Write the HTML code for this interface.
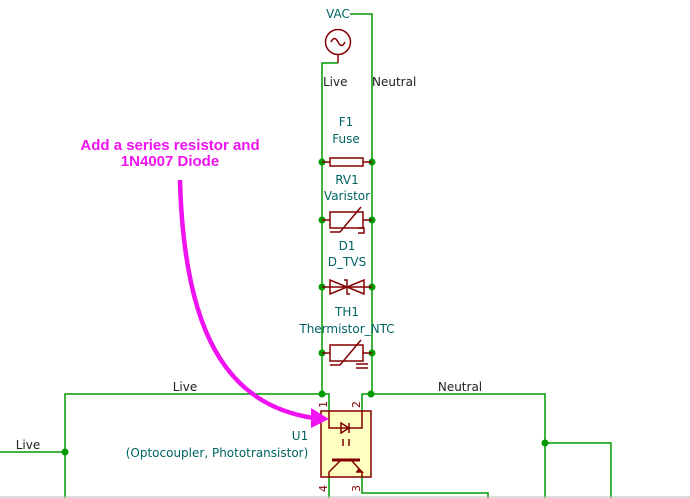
<!DOCTYPE html>
<html><head><style>
html,body{margin:0;padding:0;background:#fff;}
svg{display:block;}
.t{font-family:"DejaVu Sans","Liberation Sans",sans-serif;font-size:12px;fill:#006464;}
.w{font-family:"DejaVu Sans","Liberation Sans",sans-serif;font-size:12px;fill:#222;}
</style></head><body>
<svg width="690" height="498" viewBox="0 0 690 498" xmlns="http://www.w3.org/2000/svg">
<g stroke="#009900" stroke-width="1.5" fill="none">
<path d="M350,14 H372 V394"/>
<path d="M338,63 H322 V394"/>
<path d="M65,498 V394 H329 V411"/>
<path d="M362,411 V394 H545 V498"/>
<path d="M0,452 H65"/>
<path d="M545,443 H611 V498"/>
<path d="M362,477 V493 H488 V498"/>
<path d="M329,477 V498"/>
</g>
<g fill="#009900">
<circle cx="322" cy="162" r="3.5"/><circle cx="372" cy="162" r="3.5"/>
<circle cx="322" cy="220" r="3.5"/><circle cx="372" cy="220" r="3.5"/>
<circle cx="322" cy="287" r="3.5"/><circle cx="372" cy="287" r="3.5"/>
<circle cx="322" cy="353" r="3.5"/><circle cx="372" cy="353" r="3.5"/>
<circle cx="322" cy="394" r="3.5"/><circle cx="371" cy="394" r="3.5"/>
<circle cx="65" cy="452" r="3.5"/><circle cx="545" cy="443" r="3.5"/>
</g>
<line x1="0" y1="497" x2="690" y2="497" stroke="#bbb" stroke-width="1"/>
<g stroke="#840000" stroke-width="1.5" fill="none">
<circle cx="338" cy="42" r="12.5"/>
<path d="M331,42 q3.5,-7 7,0 t7,0"/>
<path d="M338,55 V63"/>
<path d="M322,162 H330 M363,162 H372"/><rect x="330" y="158" width="33" height="8"/>
<path d="M322,220 H330 M363,220 H372"/><rect x="330" y="212" width="33" height="16"/>
<path d="M330,232 H340 L361,207 M358,228 H364 V233 H358"/>
<path d="M322,287 H372"/><path d="M330,280 V294 L347,287 Z M364,280 V294 L347,287 Z"/><path d="M344,280 L347,280 V294 L350,294"/>
<path d="M322,353 H330 M363,353 H372"/><rect x="330" y="345" width="33" height="16"/>
<path d="M330,365 H340 L361,340"/><path d="M356,364 H368 M356,368 H368"/>
</g>
<rect x="321" y="411" width="50" height="66" fill="#ffffc2" stroke="#840000" stroke-width="1.5"/>
<g stroke="#840000" stroke-width="1.5" fill="none">
<path d="M329,411 V428 H362 V411"/><path d="M341,423 V433 L349,428 Z M349,423 V433"/>
<path d="M343,439 V446 M349,439 V446"/>
<path d="M332,460 H360" stroke-width="3"/>
<path d="M340,461 L329,472 V477 M352,461 L362,472 V477"/>
<path d="M358,469 L362,472 L356,472" fill="#840000"/>
</g>
<g font-family="DejaVu Sans,sans-serif" font-size="11" fill="#840000">
<text transform="translate(327,408) rotate(-90)">1</text>
<text transform="translate(360,408) rotate(-90)">2</text>
<text transform="translate(327,492) rotate(-90)">4</text>
<text transform="translate(360,492) rotate(-90)">3</text>
</g>
<text class="t" x="338" y="18" text-anchor="middle">VAC</text>
<text class="w" x="323" y="86">Live</text>
<text class="w" x="372" y="86">Neutral</text>
<text class="t" x="346" y="126" text-anchor="middle">F1</text>
<text class="t" x="346" y="143" text-anchor="middle">Fuse</text>
<text class="t" x="347" y="184" text-anchor="middle">RV1</text>
<text class="t" x="347" y="200" text-anchor="middle">Varistor</text>
<text class="t" x="347" y="250" text-anchor="middle">D1</text>
<text class="t" x="347" y="266" text-anchor="middle">D_TVS</text>
<text class="t" x="347" y="316" text-anchor="middle">TH1</text>
<text class="t" x="347" y="333" text-anchor="middle">Thermistor_NTC</text>
<text class="w" x="185" y="391" text-anchor="middle">Live</text>
<text class="w" x="460" y="391" text-anchor="middle">Neutral</text>
<text class="w" x="28" y="449" text-anchor="middle">Live</text>
<text class="t" x="300" y="440" text-anchor="middle">U1</text>
<text class="t" x="217" y="457" text-anchor="middle" font-size="12.4">(Optocoupler, Phototransistor)</text>
<g font-family="Liberation Sans,sans-serif" font-weight="bold" font-size="15" fill="#f012f0" text-anchor="middle">
<text x="170" y="150">Add a series resistor and</text>
<text x="170" y="166">1N4007 Diode</text>
</g>
<path d="M180,180 C184,330 225,405 314,418" stroke="#f012f0" stroke-width="4.5" fill="none"/>
<path d="M329,419 L311,408 L311,428 Z" fill="#f012f0"/>
</svg>
</body></html>
